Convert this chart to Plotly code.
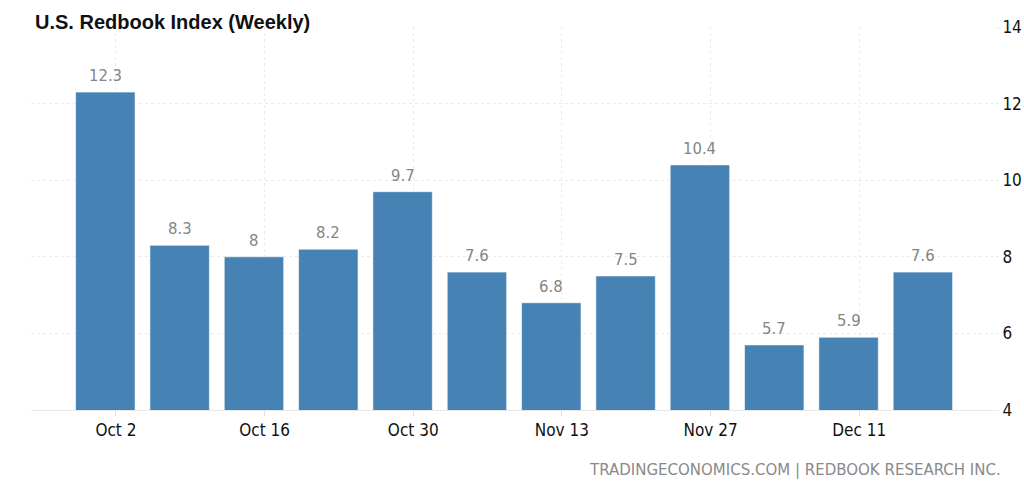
import plotly.graph_objects as go

# weekly observations (bars sit one day before the Monday tick marks)
week_dates = ["2023-10-01", "2023-10-08", "2023-10-15", "2023-10-22", "2023-10-29",
              "2023-11-05", "2023-11-12", "2023-11-19", "2023-11-26", "2023-12-03",
              "2023-12-10", "2023-12-17"]
redbook_values = [12.3, 8.3, 8, 8.2, 9.7, 7.6, 6.8, 7.5, 10.4, 5.7, 5.9, 7.6]

tick_dates = ["2023-10-02", "2023-10-16", "2023-10-30", "2023-11-13", "2023-11-27", "2023-12-11"]
tick_labels = ["Oct 2", "Oct 16", "Oct 30", "Nov 13", "Nov 27", "Dec 11"]
y_ticks = [4, 6, 8, 10, 12, 14]

W, H = 1024, 496
M = dict(l=31, r=29, t=27, b=86)
FONT = "DejaVu Sans Condensed, DejaVu Sans"

fig = go.Figure()

fig.add_trace(go.Bar(
    x=week_dates,
    y=redbook_values,
    marker=dict(color="#4682B4", line=dict(color="rgba(255,255,255,0.6)", width=1)),
    hoverinfo="x+y",
))

# value labels above each bar
for d, v in zip(week_dates, redbook_values):
    fig.add_annotation(
        x=d, y=v, text=str(v), showarrow=False,
        yanchor="bottom", yshift=5,
        font=dict(family=FONT, size=16.5, color="#858585"),
    )

fig.update_layout(
    width=W, height=H,
    paper_bgcolor="white", plot_bgcolor="white",
    margin=M,
    bargap=0.2,
    showlegend=False,
    title=dict(
        text="<b>U.S. Redbook Index (Weekly)</b>",
        x=35 / W, xanchor="left", xref="container",
        y=1 - 22 / H, yanchor="middle", yref="container",
        font=dict(family="Liberation Sans", size=20, color="#111111"),
    ),
)

fig.update_xaxes(
    type="date",
    range=["2023-09-24", "2023-12-23 19:00"],
    tickvals=tick_dates, ticktext=tick_labels,
    showgrid=True, gridcolor="#ebebeb", griddash="dot", gridwidth=1,
    ticks="outside", ticklen=5, tickcolor="#e0e0e0",
    showline=True, linecolor="#e8e8e8",
    tickfont=dict(family=FONT, size=17, color="#111111"),
    zeroline=False, automargin=False,
)

fig.update_yaxes(
    side="right",
    range=[4, 14],
    tickvals=y_ticks,
    showgrid=True, gridcolor="#ebebeb", griddash="dot", gridwidth=1,
    ticks="outside", ticklen=3, tickcolor="#ebebeb",
    tickfont=dict(family=FONT, size=17, color="#111111"),
    zeroline=False, automargin=False,
)

# source footer, right end ~1003px, centre ~470px from top
pw = W - M["l"] - M["r"]
ph = H - M["t"] - M["b"]
fig.add_annotation(
    text="TRADINGECONOMICS.COM | REDBOOK RESEARCH INC.",
    xref="paper", yref="paper",
    x=(1003 - M["l"]) / pw, y=-(470 - (H - M["b"])) / ph,
    xanchor="right", yanchor="middle",
    showarrow=False,
    font=dict(family="DejaVu Sans", size=15, color="#8a8a8a"),
)

fig.write_html("out.html", config={"displayModeBar": False},
               post_script="document.body.style.margin='0';")
